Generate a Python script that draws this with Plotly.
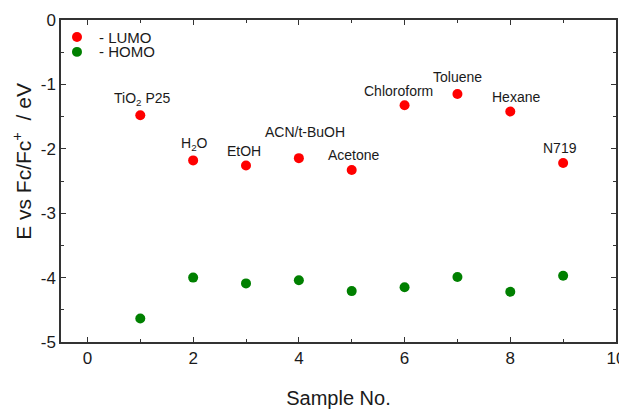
import plotly.graph_objects as go

samples = [1, 2, 3, 4, 5, 6, 7, 8, 9]
labels = ["TiO<sub>2</sub> P25", "H<sub>2</sub>O", "EtOH", "ACN/t-BuOH", "Acetone",
          "Chloroform", "Toluene", "Hexane", "N719"]
lumo = [-1.48, -2.18, -2.26, -2.145, -2.33, -1.325, -1.15, -1.42, -2.22]
homo = [-4.635, -4.00, -4.09, -4.04, -4.21, -4.15, -3.99, -4.22, -3.97]

x_ticks = [0, 2, 4, 6, 8, 10]
x_ticktext = ["0", "2", "4", "6", "8", "10"]
y_ticks = [0, -1, -2, -3, -4, -5]
y_ticktext = ["0", "-1", "-2", "-3", "-4", "-5"]

label_dx = [2, 1, -2, 6, 2, -6, 0, 6, -3]
label_dy = [16, 16, 15, 26, 15, 14, 17, 14, 15]

FONT = "Liberation Sans, Arial, sans-serif"
RED = "#ff0000"
GREEN = "#008000"
AX = "#333333"
TXT = "#1a1a1a"

fig = go.Figure()
fig.add_trace(go.Scatter(x=samples, y=lumo, mode="markers", name="LUMO",
                         marker=dict(color=RED, size=10), showlegend=False))
fig.add_trace(go.Scatter(x=samples, y=homo, mode="markers", name="HOMO",
                         marker=dict(color=GREEN, size=10), showlegend=False))

for x, y, t, dx, dy in zip(samples, lumo, labels, label_dx, label_dy):
    fig.add_annotation(x=x, y=y, text=t, showarrow=False, xshift=dx, yshift=dy,
                       font=dict(family=FONT, size=14, color=TXT))

# manual legend (LUMO / HOMO)
legend_items = [("- LUMO", RED, 0.947), ("- HOMO", GREEN, 0.901)]
for txt, col, yp in legend_items:
    fig.add_shape(type="circle", xref="paper", yref="paper",
                  x0=0.0288 - 0.009, x1=0.0288 + 0.009, y0=yp - 0.0155, y1=yp + 0.0155,
                  fillcolor=col, line=dict(width=0))
    fig.add_annotation(xref="paper", yref="paper", x=0.065, y=yp, text=txt,
                       showarrow=False, xanchor="left", yanchor="middle",
                       font=dict(family=FONT, size=15, color=TXT))

# y-axis title (placed slightly above centre, as in the reference)
fig.add_annotation(xref="paper", yref="paper", x=-0.070, y=0.56,
                   text="E vs Fc/Fc<sup>+</sup>  / eV", textangle=-90, showarrow=False,
                   xanchor="center", yanchor="middle",
                   font=dict(family=FONT, size=21, color=TXT))

fig.add_annotation(xref="paper", yref="paper", x=1.016, y=0.40, text="(",
                   showarrow=False, xanchor="center", yanchor="middle",
                   font=dict(family=FONT, size=11, color="#888"))

axis_common = dict(showgrid=False, zeroline=False, showline=True, linecolor=AX,
                   linewidth=1.5, mirror="ticks", ticks="inside", ticklen=5,
                   tickwidth=1.3, tickcolor=AX, automargin=False,
                   ticklabeloverflow="allow",
                   tickfont=dict(family=FONT, size=17, color=TXT))

fig.update_xaxes(range=[-0.5, 10], tickmode="array", tickvals=x_ticks, ticktext=x_ticktext,
                 minor=dict(dtick=1, tick0=0, ticks="inside", ticklen=3, tickcolor=AX, tickwidth=1.2),
                 title=dict(text="Sample No.", font=dict(family=FONT, size=20, color=TXT),
                            standoff=27),
                 **axis_common)
fig.update_yaxes(range=[-5, 0], tickmode="array", tickvals=y_ticks, ticktext=y_ticktext,
                 minor=dict(dtick=0.5, tick0=0, ticks="inside", ticklen=3, tickcolor=AX, tickwidth=1.2),
                 **axis_common)

# the page adds an 8 px body margin, so the figure is sized to fill the window exactly
fig.update_layout(width=619, height=401, plot_bgcolor="white", paper_bgcolor="white",
                  margin=dict(l=53, r=11, t=12, b=67), showlegend=False)

fig.write_html("out.html")
